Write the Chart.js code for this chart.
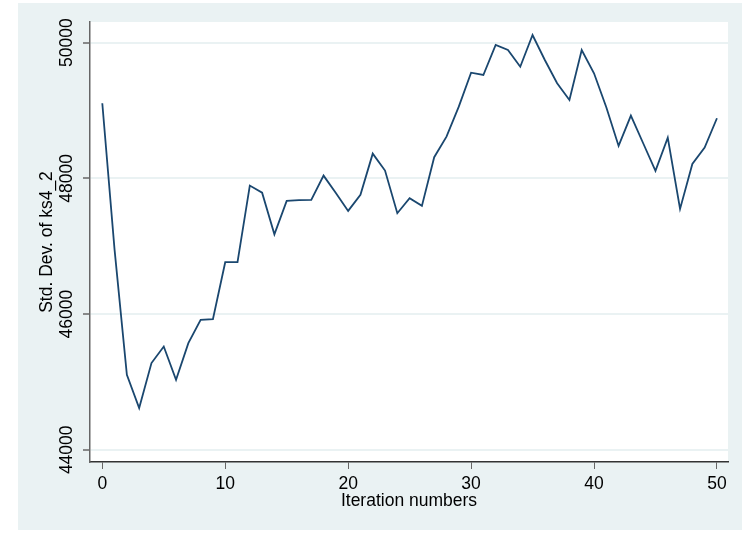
<!DOCTYPE html>
<html lang="en">
<head>
    <meta charset="UTF-8">
    <title>Std. Dev. of ks4_2 by iteration</title>
    <style>
        body {
            margin: 0;
            background: #ffffff;
        }
        #chart {
            display: block;
        }
    </style>
</head>
<body>
    <canvas id="chart" width="742" height="533"></canvas>

    <script src="https://cdn.jsdelivr.net/npm/chart.js"></script>
    <script>
        // iteration number on x, standard deviation of ks4_2 on y
        const iterations = [
            0, 1, 2, 3, 4, 5, 6, 7, 8, 9,
            10, 11, 12, 13, 14, 15, 16, 17, 18, 19,
            20, 21, 22, 23, 24, 25, 26, 27, 28, 29,
            30, 31, 32, 33, 34, 35, 36, 37, 38, 39,
            40, 41, 42, 43, 44, 45, 46, 47, 48, 49,
            50
        ];
        const stdDev = [
            49107, 46946, 45105, 44615, 45278, 45522, 45032, 45572, 45915, 45926,
            46765, 46765, 47894, 47790, 47175, 47668, 47679, 47683, 48041, 47786,
            47521, 47757, 48365, 48115, 47487, 47708, 47595, 48312, 48615, 49057,
            49558, 49524, 49966, 49892, 49646, 50113, 49745, 49402, 49156, 49892,
            49549, 49048, 48478, 48925, 48518, 48110, 48601, 47550, 48213, 48453,
            48886
        ];
        const xTicks = [0, 10, 20, 30, 40, 50];
        const yTicks = [44000, 46000, 48000, 50000];

        const FONT = '"Liberation Sans", Arial, sans-serif';
        const BG = '#eaf2f3';

        // graph region in light blue-grey, plot region in white
        const backdrop = {
            id: 'backdrop',
            beforeDraw(chart) {
                const ctx = chart.ctx;
                const a = chart.chartArea;
                ctx.save();
                ctx.fillStyle = '#ffffff';
                ctx.fillRect(0, 0, chart.width, chart.height);
                ctx.fillStyle = BG;
                ctx.fillRect(18, 3, chart.width - 18, chart.height - 6);
                ctx.fillStyle = '#ffffff';
                ctx.fillRect(a.left, a.top, a.right - a.left, a.bottom - a.top);
                ctx.restore();
            }
        };

        new Chart(document.getElementById('chart'), {
            type: 'line',
            data: {
                datasets: [{
                    data: iterations.map((it, i) => ({ x: it, y: stdDev[i] })),
                    borderColor: '#1a476f',
                    borderWidth: 1.8,
                    pointRadius: 0,
                    tension: 0,
                    fill: false
                }]
            },
            options: {
                responsive: false,
                animation: false,
                devicePixelRatio: 1,
                layout: { padding: { left: 0, top: 22, right: 14, bottom: 0 } },
                plugins: {
                    legend: { display: false },
                    tooltip: { enabled: false }
                },
                scales: {
                    x: {
                        type: 'linear',
                        min: -1,
                        max: 50.9,
                        afterBuildTicks: s => { s.ticks = xTicks.map(v => ({ value: v })); },
                        afterFit: s => { s.height = 71; },
                        grid: {
                            drawOnChartArea: false,
                            tickLength: 7,
                            tickColor: '#666'
                        },
                        border: { color: '#333', width: 1.5 },
                        ticks: {
                            autoSkip: false,
                            maxRotation: 0,
                            padding: 5,
                            color: '#000',
                            font: { family: FONT, size: 17.5 }
                        },
                        title: {
                            display: true,
                            text: 'Iteration numbers',
                            color: '#000',
                            font: { family: FONT, size: 17.5 },
                            padding: { top: 0, bottom: 21 }
                        }
                    },
                    y: {
                        min: 43820,
                        max: 50305,
                        afterBuildTicks: s => { s.ticks = yTicks.map(v => ({ value: v })); },
                        afterFit: s => { s.width = 90; },
                        grid: {
                            color: BG,
                            lineWidth: 2,
                            tickLength: 7,
                            tickColor: '#666',
                            tickWidth: 1.5
                        },
                        border: { color: '#666', width: 1.5 },
                        ticks: {
                            autoSkip: false,
                            minRotation: 90,
                            maxRotation: 90,
                            crossAlign: 'center',
                            padding: -9,
                            color: '#000',
                            font: { family: FONT, size: 17.5 },
                            callback: v => String(v)
                        },
                        title: {
                            display: true,
                            text: 'Std. Dev. of ks4_2',
                            color: '#000',
                            font: { family: FONT, size: 17.5 },
                            padding: { top: 37, bottom: 0 }
                        }
                    }
                }
            },
            plugins: [backdrop]
        });
    </script>
</body>
</html>
